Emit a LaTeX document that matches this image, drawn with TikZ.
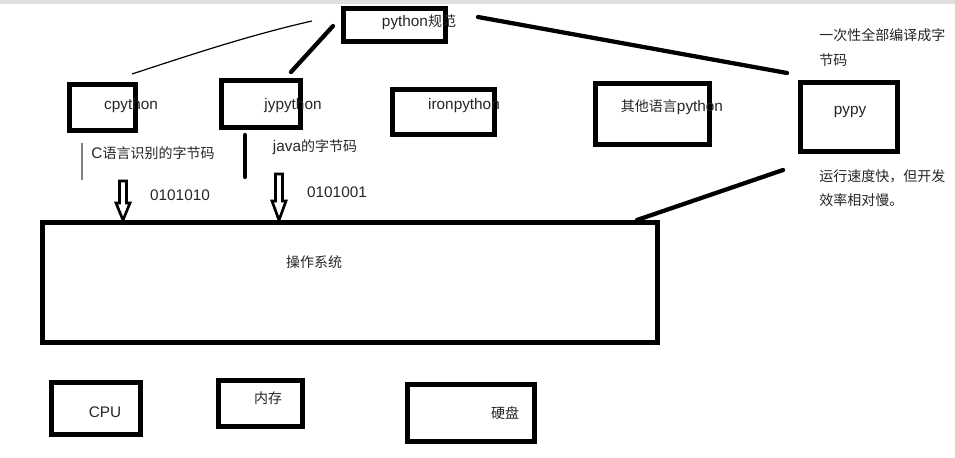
\documentclass[tikz,border=0pt]{standalone}
\usepackage{fontspec}
\setmainfont{Liberation Sans}
\newfontfamily\cjk{Noto Sans CJK SC}
\newcommand\zh[1]{{\cjk\fontsize{10.5}{13}\selectfont #1}}
\begin{document}
\begin{tikzpicture}[x=0.75pt,y=-0.75pt,
  box/.style 2 args={draw=black,line width=3.5pt,inner sep=0pt,minimum width=#1*0.75pt,minimum height=#2*0.75pt},
  lbl/.style={inner sep=0pt,text=black!85,font=\fontsize{11.5}{13}\selectfont},
  note/.style={inner sep=0pt,anchor=west,align=left,text=black!85,font=\cjk\fontsize{10.5}{18.5}\selectfont},
  thick line/.style={line width=3.2pt,line cap=round},
  hollow/.style={draw=black,fill=white,line width=2pt,line join=miter}]
\useasboundingbox (0,0) rectangle (955,457);
\fill[white] (0,0) rectangle (955,457);
\fill[gray!25] (0,0) rectangle (955,4);
% boxes
\node[box={102}{33}] (spec) at (394.5,25) {};
\node[box={66}{46}] (cpy) at (102.5,107.5) {};
\node[box={79}{47}] (jpy) at (261,104) {};
\node[box={102}{45}] (ipy) at (443.5,112) {};
\node[box={114}{61}] (opy) at (652.5,114) {};
\node[box={97}{69}] (pypy) at (849,117) {};
\node[box={615}{120}] (os) at (350,282.5) {};
\node[box={89}{52}] (cpu) at (96,408.5) {};
\node[box={84}{46}] (mem) at (260.5,403.5) {};
\node[box={127}{57}] (disk) at (471,413) {};
% labels
\node[lbl] (tspec) at (419,22) {python\zh{规范}};
\node[lbl] (tcpy) at (131,106) {cpython};
\node[lbl] (tjpy) at (293,106) {jypython};
\node[lbl] (tipy) at (464,106) {ironpython};
\node[lbl] (topy) at (672,107) {\zh{其他语言}python};
\node[lbl] (tpypy) at (850,112) {pypy};
\node[lbl] (tcb) at (153,153) {C\zh{语言识别的字节码}};
\node[lbl] (tjb) at (315,147) {java\zh{的字节码}};
\node[lbl] (b1) at (180,195) {0101010};
\node[lbl] (b2) at (337,192) {0101001};
\node[note] (n1) at (819,47.5) {一次性全部编译成字\\节码};
\node[note] (n2) at (819,188) {运行速度快，但开发\\效率相对慢。};
\node[lbl] (tos) at (314,262) {\zh{操作系统}};
\node[lbl] (tcpu) at (105,412) {CPU};
\node[lbl] (tmem) at (268,398) {\zh{内存}};
\node[lbl] (tdisk) at (505,413) {\zh{硬盘}};
% connector end points
\coordinate (w1) at (132,74);
\coordinate (w2) at (312,21);
\coordinate (j1) at (291,72);
\coordinate (j2) at (333,26);
\coordinate (p1) at (478,17);
\coordinate (p2) at (787,73);
\coordinate (o1) at (637,220);
\coordinate (o2) at (783,170);
\coordinate (g1) at (82,143);
\coordinate (g2) at (82,180);
\coordinate (k1) at (245,135);
\coordinate (k2) at (245,177);
% lines
\draw[line width=0.9pt] (w1) .. controls (190,55) and (250,35) .. (w2);
\draw[thick line] (j1) -- (j2);
\draw[thick line] (p1) -- (p2);
\draw[thick line] (o1) -- (o2);
\draw[gray,line width=1.2pt] (g1) -- (g2);
\draw[thick line] (k1) -- (k2);
% hollow arrows
\coordinate (a1) at (os.north -| 123,0);
\coordinate (a2) at (os.north -| 279,0);
\draw[hollow] (119.5,181) -- (119.5,203) -- (116,203) -- (a1) -- (130,203) -- (126.5,203) -- (126.5,181) -- cycle;
\draw[hollow] (275.5,174) -- (275.5,201) -- (272,201) -- (a2) -- (286,201) -- (282.5,201) -- (282.5,174) -- cycle;
\end{tikzpicture}
\end{document}
